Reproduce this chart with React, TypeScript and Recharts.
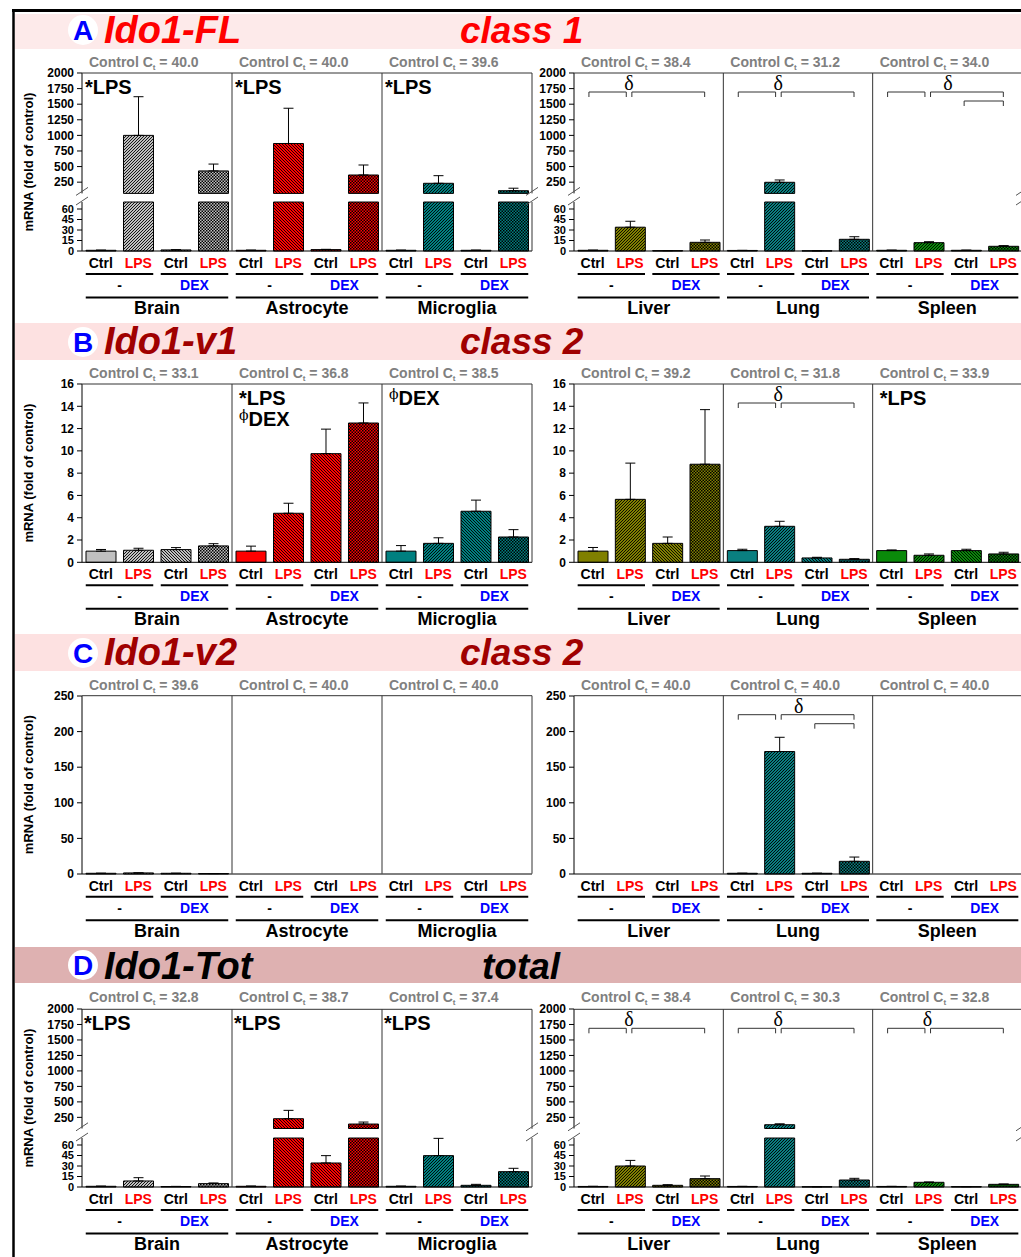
import React from 'react';
import { BarChart, Bar, XAxis, YAxis, ErrorBar, Cell } from 'recharts';

const FONT = "'Liberation Sans', Arial, Helvetica, sans-serif";
const SERIF = "'Liberation Serif', 'DejaVu Serif', serif";
const PHI_FONT = "'DejaVu Serif', serif";

const TISSUES = ['Brain', 'Astrocyte', 'Microglia', 'Liver', 'Lung', 'Spleen'];
const CONDITIONS = ['Ctrl', 'LPS', 'Ctrl', 'LPS'];
const TREATMENTS = ['-', 'DEX'];
const TISSUE_COLORS = ['#c0c0c0', '#ff0000', '#008080', '#808000', '#0a7f80', '#0a8a0a'];
const FILL_KINDS = ['solid', 'lps', 'back', 'check'];
const LPS_STRIPE = ['fwd', 'back', 'fwd', 'fwd', 'fwd', 'fwd'];

// A: Ido1-FL
const FL_CT = [40.0, 40.0, 39.6, 38.4, 31.2, 34.0];
const FL_MEAN = [
  1, 1000, 1.5, 430,
  1, 870, 2, 365,
  1, 232, 1, 113,
  1, 34, 0.5, 12.4,
  0.8, 248, 0.3, 16.7,
  1, 11.9, 1, 6.7,
];
const FL_ERR = [
  0.2, 620, 0.3, 110,
  0.2, 565, 0.4, 160,
  0.2, 122, 0.2, 40,
  0.2, 8.5, 0.1, 3.3,
  0.1, 37, 0.1, 3.7,
  0.2, 1.4, 0.2, 1,
];

// B: Ido1-v1
const V1_CT = [33.1, 36.8, 38.5, 39.2, 31.8, 33.9];
const V1_MEAN = [
  1.0, 1.08, 1.14, 1.47,
  1.0, 4.4, 9.75, 12.5,
  1.0, 1.7, 4.58, 2.27,
  1.0, 5.65, 1.7, 8.8,
  1.05, 3.23, 0.39, 0.27,
  1.05, 0.63, 1.05, 0.75,
];
const V1_ERR = [
  0.15, 0.18, 0.18, 0.2,
  0.45, 0.9, 2.2, 1.8,
  0.5, 0.5, 1.0, 0.66,
  0.33, 3.25, 0.57, 4.9,
  0.12, 0.45, 0.06, 0.06,
  0.06, 0.12, 0.12, 0.15,
];

// C: Ido1-v2
const V2_CT = [39.6, 40.0, 40.0, 40.0, 40.0, 40.0];
const V2_MEAN = [
  1, 1.5, 1, 0.6,
  0, 0, 0, 0,
  0, 0, 0, 0,
  0, 0, 0, 0,
  1, 172, 1, 17.8,
  0, 0, 0, 0,
];
const V2_ERR = [
  0, 0, 0, 0,
  0, 0, 0, 0,
  0, 0, 0, 0,
  0, 0, 0, 0,
  0, 20, 0, 6,
  0, 0, 0, 0,
];

// D: Ido1-Tot
const TOT_CT = [32.8, 38.7, 37.4, 38.4, 30.3, 32.8];
const TOT_MEAN = [
  1, 8.6, 0.7, 4.8,
  1, 228, 34.3, 142,
  1, 44.8, 2.4, 21.9,
  0.8, 30, 2.4, 11.9,
  0.8, 131, 0.4, 10,
  0.8, 6.7, 0.5, 3.8,
];
const TOT_ERR = [
  0.2, 4.7, 0.2, 1,
  0.3, 135, 10.5, 32,
  0.2, 24.7, 1.4, 4.8,
  0.2, 8, 0.9, 3.8,
  0.1, 15, 0.1, 2.4,
  0.1, 0.4, 0.1, 0.5,
];

const FL_NOTES = [['*LPS'], ['*LPS'], ['*LPS'], [], [], []];
const V1_NOTES = [[], ['*LPS', 'ϕDEX'], ['ϕDEX'], [], [], ['*LPS']];
const V2_NOTES = [[], [], [], [], [], []];
const TOT_NOTES = [['*LPS'], ['*LPS'], ['*LPS'], [], [], []];

const FL_SIG = ['', '', '', 'pair', 'pair', 'triple'];
const V1_SIG = ['', '', '', '', 'pair', ''];
const V2_SIG = ['', '', '', '', 'triple', ''];
const TOT_SIG = ['', '', '', 'pair', 'pair', 'pair'];

const BREAK = 70;
const UPPER_TICKS = [250, 500, 750, 1000, 1250, 1500, 1750, 2000];
const LOWER_TICKS = [0, 15, 30, 45, 60];
const V1_TICKS = [0, 2, 4, 6, 8, 10, 12, 14, 16];
const V2_TICKS = [0, 50, 100, 150, 200, 250];
const POS_TICKS = Array.from({ length: 12 }, (_, i) => i + 0.5);

const GROUPS = [
  { axisX: 82, plotW: 450, tissues: [0, 1, 2] },
  { axisX: 574, plotW: 448, tissues: [3, 4, 5] },
];
const ux = (g: any, u: number) => g.axisX + (u * g.plotW) / 12;

const YW = 50;
const MT = 8;
const MR = 4;
const XH = 22;

const PANELS = [
  {
    letter: 'A', gene: 'Ido1-FL', cls: 'class 1', clsX: 460, color: '#ff0000', band: '#fdeaea',
    bandTop: 14, bandH: 35, textBase: 43, circleY: 30, ctBase: 67, plotTop: 73, plotBottom: 251,
    split: [193.4, 202], ct: FL_CT, mean: FL_MEAN, err: FL_ERR, notes: FL_NOTES, sig: FL_SIG, noteDx: 3,
  },
  {
    letter: 'B', gene: 'Ido1-v1', cls: 'class 2', clsX: 460, color: '#a00000', band: '#fde1e1',
    bandTop: 323, bandH: 37, textBase: 354, circleY: 342, ctBase: 378, plotTop: 384, plotBottom: 562.3,
    domain: [0, 16], ticks: V1_TICKS, ct: V1_CT, mean: V1_MEAN, err: V1_ERR, notes: V1_NOTES, sig: V1_SIG, noteDx: 7,
  },
  {
    letter: 'C', gene: 'Ido1-v2', cls: 'class 2', clsX: 460, color: '#a00000', band: '#fde1e1',
    bandTop: 634, bandH: 37, textBase: 665, circleY: 653, ctBase: 690, plotTop: 695.7, plotBottom: 873.7,
    domain: [0, 250], ticks: V2_TICKS, ct: V2_CT, mean: V2_MEAN, err: V2_ERR, notes: V2_NOTES, sig: V2_SIG, noteDx: 7,
  },
  {
    letter: 'D', gene: 'Ido1-Tot', cls: 'total', clsX: 482, color: '#000000', band: '#deb1b1',
    bandTop: 947, bandH: 36, textBase: 979, circleY: 965, ctBase: 1002, plotTop: 1009.3, plotBottom: 1187,
    split: [1128.8, 1138], ct: TOT_CT, mean: TOT_MEAN, err: TOT_ERR, notes: TOT_NOTES, sig: TOT_SIG, noteDx: 2,
  },
];

// bracket spans in bar units inside a tissue (bar k centred at k + 0.5)
const BRACKETS: Record<string, number[][]> = {
  pair: [[0.4, 1.4, 0], [1.55, 3.5, 0]],
  triple: [[0.4, 1.4, 0], [1.55, 3.5, 0], [2.45, 3.5, 1]],
};
const DELTA_AT: Record<string, number> = { pair: 1.47, triple: 2.02 };

function groupData(p: any, g: any, mode: string) {
  return g.tissues.flatMap((t: number, ti: number) =>
    CONDITIONS.map((_, k) => {
      const i = t * 4 + k;
      const m = p.mean[i];
      const e = p.err[i];
      const kind = FILL_KINDS[k] === 'lps' ? LPS_STRIPE[t] : FILL_KINDS[k];
      const fill = kind === 'solid' ? TISSUE_COLORS[t] : `url(#pat-${t}-${kind})`;
      let v: number | null = m;
      let err: number[] | null = [0, e];
      if (mode === 'upper') {
        v = m > BREAK ? m : null;
        err = m > BREAK ? [0, e] : null;
      } else if (mode === 'lower') {
        v = Math.min(m, BREAK);
        err = m > BREAK ? null : [0, e];
      }
      return { pos: ti * 4 + k + 0.5, v, err, fill };
    })
  );
}

function CondTick(props: any) {
  const { x, y, payload } = props;
  const label = CONDITIONS[Math.floor(payload.value) % 4];
  return (
    <text x={x} y={y + 17} textAnchor="middle" fontFamily={FONT} fontSize={14} fontWeight={700}
      fill={label === 'LPS' ? '#ff0000' : '#000'}>
      {label}
    </text>
  );
}

function GroupChart({ g, top, plotH, data, domain, ticks, showX, tickSize }: any) {
  return (
    <div style={{ position: 'absolute', left: g.axisX - YW, top: top - MT }}>
      <BarChart
        width={YW + g.plotW + MR}
        height={MT + plotH + (showX ? XH : 2)}
        data={data}
        margin={{ top: MT, right: MR, bottom: showX ? 0 : 2, left: 0 }}
      >
        <XAxis
          type="number" dataKey="pos" domain={[0, 12]} ticks={POS_TICKS} interval={0}
          hide={!showX} height={showX ? XH : 0} tickSize={0} tickMargin={0} tickLine={false}
          axisLine={{ stroke: '#000' }} tick={(tp: any) => <CondTick {...tp} />}
        />
        <YAxis
          type="number" domain={domain} ticks={ticks} interval={0} width={YW}
          tickSize={5} tickMargin={3} axisLine={{ stroke: '#000' }} tickLine={{ stroke: '#000' }}
          tick={{ fontSize: tickSize || 12, fontWeight: 700, fill: '#000', fontFamily: FONT }}
        />
        <Bar dataKey="v" barSize={30} stroke="#000" strokeWidth={1} isAnimationActive={false}>
          {data.map((d: any, i: number) => (
            <Cell key={i} fill={d.fill} />
          ))}
          <ErrorBar dataKey="err" direction="y" width={5} stroke="#000" strokeWidth={1} isAnimationActive={false} />
        </Bar>
      </BarChart>
    </div>
  );
}

function Patterns() {
  return (
    <svg width={0} height={0} style={{ position: 'absolute' }}>
      <defs>
        {TISSUE_COLORS.map((c, t) => (
          <React.Fragment key={t}>
            <pattern id={`pat-${t}-fwd`} patternUnits="userSpaceOnUse" width={3} height={3}>
              <rect width={3} height={3} fill={c} />
              <path d="M-0.75,0.75 l1.5,-1.5 M0,3 l3,-3 M2.25,3.75 l1.5,-1.5" stroke="#000" strokeWidth={0.9} />
            </pattern>
            <pattern id={`pat-${t}-back`} patternUnits="userSpaceOnUse" width={3} height={3}>
              <rect width={3} height={3} fill={c} />
              <path d="M-0.75,2.25 l1.5,1.5 M0,0 l3,3 M2.25,-0.75 l1.5,1.5" stroke="#000" strokeWidth={0.9} />
            </pattern>
            <pattern id={`pat-${t}-check`} patternUnits="userSpaceOnUse" width={3} height={3}>
              <rect width={3} height={3} fill={c} />
              <rect x={0} y={0} width={1.5} height={1.5} fill="#000" />
              <rect x={1.5} y={1.5} width={1.5} height={1.5} fill="#000" />
            </pattern>
          </React.Fragment>
        ))}
      </defs>
    </svg>
  );
}

function Note({ x, y, text }: any) {
  if (text.startsWith('ϕ')) {
    return (
      <text x={x} y={y} fontFamily={FONT} fontSize={20} fontWeight={700} fill="#000">
        <tspan fontFamily={PHI_FONT} fontSize={14} fontWeight={400} dy={-6}>ϕ</tspan>
        <tspan dy={6}>{text.slice(1)}</tspan>
      </text>
    );
  }
  return (
    <text x={x} y={y} fontFamily={FONT} fontSize={20} fontWeight={700} fill="#000">{text}</text>
  );
}

function PanelOverlay({ p }: any) {
  const els: React.ReactNode[] = [];
  const bottom = p.plotBottom;
  GROUPS.forEach((g, gi) => {
    const right = ux(g, 12);
    const k = `g${gi}`;
    if (gi === 0) {
      const mid = (p.plotTop + bottom) / 2;
      els.push(
        <text key={`${k}-yt`} transform={`translate(33, ${mid}) rotate(-90)`} textAnchor="middle"
          fontSize={13} fontWeight={700} fill="#000">mRNA (fold of control)</text>
      );
    }
    els.push(<line key={`${k}-top`} x1={g.axisX} x2={right} y1={p.plotTop} y2={p.plotTop} stroke="#333" strokeWidth={1} />);
    [4, 8].forEach((u) => {
      els.push(<line key={`${k}-d${u}`} x1={ux(g, u)} x2={ux(g, u)} y1={p.plotTop} y2={bottom} stroke="#333" strokeWidth={1} />);
    });
    if (p.split) {
      els.push(<line key={`${k}-r1`} x1={right} x2={right} y1={p.plotTop} y2={p.split[0]} stroke="#333" />);
      els.push(<line key={`${k}-r2`} x1={right} x2={right} y1={p.split[1]} y2={bottom} stroke="#333" />);
      [g.axisX, right].forEach((bx, bi) => {
        [p.split[0] - 2, p.split[1] - 1].forEach((by, bj) => {
          els.push(
            <line key={`${k}-br${bi}${bj}`} x1={bx - 6} y1={by + 4} x2={bx + 6} y2={by - 4} stroke="#555" strokeWidth={1} />
          );
        });
      });
    } else {
      els.push(<line key={`${k}-r`} x1={right} x2={right} y1={p.plotTop} y2={bottom} stroke="#333" />);
    }
    g.tissues.forEach((t: number, ti: number) => {
      const kk = `${k}-t${t}`;
      const left = ux(g, ti * 4);
      const bc = (j: number) => ux(g, ti * 4 + j + 0.5);
      const half = 15;
      els.push(
        <text key={`${kk}-ct`} x={left + 7} y={p.ctBase} fontSize={14} fontWeight={700} fill="#808080">
          Control C<tspan fontSize={8} dy={3}>t</tspan>
          <tspan dy={-3}>{' = ' + p.ct[t].toFixed(1)}</tspan>
        </text>
      );
      p.notes[t].forEach((n: string, ni: number) => {
        els.push(<Note key={`${kk}-n${ni}`} x={left + p.noteDx} y={p.plotTop + 21 + ni * 21} text={n} />);
      });
      const sig = p.sig[t];
      if (sig) {
        BRACKETS[sig].forEach(([a, b, row], bi) => {
          const y = p.plotTop + 19 + row * 9;
          const x1 = ux(g, ti * 4 + a);
          const x2 = ux(g, ti * 4 + b);
          els.push(
            <path key={`${kk}-b${bi}`} d={`M${x1},${y + 5} V${y} H${x2} V${y + 5}`} fill="none" stroke="#333" strokeWidth={1} />
          );
        });
        els.push(
          <text key={`${kk}-delta`} x={ux(g, ti * 4 + DELTA_AT[sig])} y={p.plotTop + 17} textAnchor="middle"
            fontFamily={SERIF} fontSize={20} fill="#000">δ</text>
        );
      }
      [0, 1].forEach((pi) => {
        const x1 = bc(pi * 2) - half;
        const x2 = bc(pi * 2 + 1) + half;
        els.push(<line key={`${kk}-u${pi}`} x1={x1} x2={x2} y1={bottom + 23} y2={bottom + 23} stroke="#000" strokeWidth={2} />);
        els.push(
          <text key={`${kk}-tr${pi}`} x={(x1 + x2) / 2} y={bottom + 39} textAnchor="middle" fontSize={14} fontWeight={700}
            fill={pi === 0 ? '#000' : '#0000ff'}>{TREATMENTS[pi]}</text>
        );
      });
      els.push(
        <line key={`${kk}-u2`} x1={bc(0) - half} x2={bc(3) + half} y1={bottom + 46.5} y2={bottom + 46.5} stroke="#000" strokeWidth={2} />
      );
      els.push(
        <text key={`${kk}-name`} x={(bc(0) + bc(3)) / 2} y={bottom + 63} textAnchor="middle" fontSize={18} fontWeight={700}
          fill="#000">{TISSUES[t]}</text>
      );
    });
  });
  return (
    <g>
      <rect x={15} y={p.bandTop} width={1010} height={p.bandH} fill={p.band} />
      <circle cx={83} cy={p.circleY} r={15} fill="#fff" />
      <text x={83} y={p.circleY + 10} textAnchor="middle" fontSize={28} fontWeight={700} fill="#0000ff">{p.letter}</text>
      <text x={104} y={p.textBase} fontSize={38} fontWeight={700} fontStyle="italic" fill={p.color}>{p.gene}</text>
      <text x={p.clsX} y={p.textBase} fontSize={37} fontWeight={700} fontStyle="italic" fill={p.color}>{p.cls}</text>
      {els}
    </g>
  );
}

function PanelCharts({ p }: any) {
  return (
    <>
      {GROUPS.map((g, gi) =>
        p.split ? (
          <React.Fragment key={gi}>
            <GroupChart g={g} top={p.plotTop} plotH={p.split[0] - p.plotTop} data={groupData(p, g, 'upper')}
              domain={[BREAK, 2000]} ticks={UPPER_TICKS} showX={false} />
            <GroupChart g={g} top={p.split[1]} plotH={p.plotBottom - p.split[1]} data={groupData(p, g, 'lower')}
              domain={[0, BREAK]} ticks={LOWER_TICKS} showX tickSize={11} />
          </React.Fragment>
        ) : (
          <GroupChart key={gi} g={g} top={p.plotTop} plotH={p.plotBottom - p.plotTop} data={groupData(p, g, 'full')}
            domain={p.domain} ticks={p.ticks} showX />
        )
      )}
    </>
  );
}

export default function App() {
  return (
    <div style={{ position: 'absolute', left: 0, top: 0, width: 1021, height: 1257, background: '#fff', overflow: 'hidden', fontFamily: FONT }}>
      <Patterns />
      {PANELS.map((p) => (
        <PanelCharts key={p.letter} p={p} />
      ))}
      <svg width={1021} height={1257} style={{ position: 'absolute', left: 0, top: 0, pointerEvents: 'none' }} fontFamily={FONT}>
        <line x1={12} x2={1021} y1={10.5} y2={10.5} stroke="#000" strokeWidth={3} />
        <line x1={13.5} x2={13.5} y1={9} y2={1257} stroke="#000" strokeWidth={2.5} />
        {PANELS.map((p) => (
          <PanelOverlay key={p.letter} p={p} />
        ))}
      </svg>
    </div>
  );
}
